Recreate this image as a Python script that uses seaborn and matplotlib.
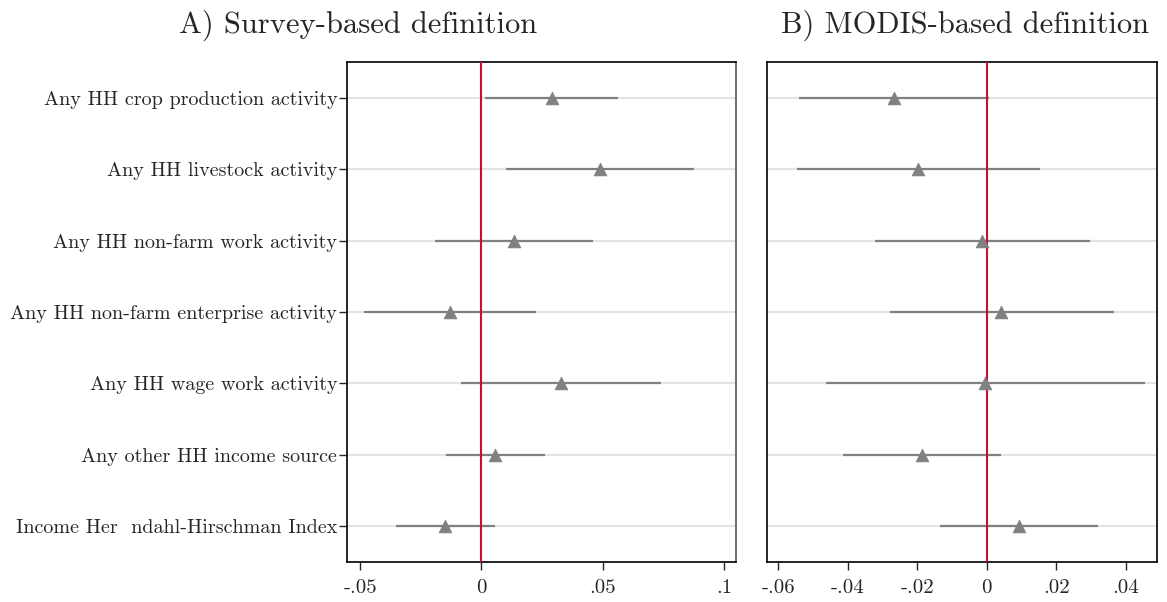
import matplotlib
matplotlib.use("Agg")
import matplotlib.pyplot as plt
import seaborn as sns
import pandas as pd
import numpy as np

# Outcomes (top to bottom)
outcomes = [
    "Any HH crop production activity",
    "Any HH livestock activity",
    "Any HH non-farm work activity",
    "Any HH non-farm enterprise activity",
    "Any HH wage work activity",
    "Any other HH income source",
    "Income Her  ndahl-Hirschman Index",
]

# Panel A: survey-based definition (coefficient and 95% CI)
survey_coef = [0.0290, 0.0489, 0.0133, -0.0128, 0.0327, 0.0058, -0.0148]
survey_lo = [0.0017, 0.0102, -0.0190, -0.0482, -0.0082, -0.0147, -0.0352]
survey_hi = [0.0565, 0.0878, 0.0459, 0.0225, 0.0739, 0.0264, 0.0055]

# Panel B: MODIS-based definition
modis_coef = [-0.0267, -0.0197, -0.0014, 0.0042, -0.0004, -0.0188, 0.0093]
modis_lo = [-0.0540, -0.0546, -0.0323, -0.0279, -0.0462, -0.0414, -0.0136]
modis_hi = [0.0007, 0.0153, 0.0296, 0.0365, 0.0455, 0.0041, 0.0320]

titles = ["A) Survey-based definition", "B) MODIS-based definition"]
survey_ticks = [-0.05, 0, 0.05, 0.1]
survey_ticklabels = ["-.05", "0", ".05", ".1"]
modis_ticks = [-0.06, -0.04, -0.02, 0, 0.02, 0.04]
modis_ticklabels = ["-.06", "-.04", "-.02", "0", ".02", ".04"]

sns.set_style("white")
plt.rcParams["font.family"] = ["cmr10", "DejaVu Serif"]
plt.rcParams["axes.unicode_minus"] = False

fig = plt.figure(figsize=(11.67, 6.02), dpi=100)
W, H = 1167, 602
axA = fig.add_axes([347 / W, 1 - 562 / H, (736 - 347) / W, (562 - 62) / H])
axB = fig.add_axes([767 / W, 1 - 562 / H, (1157 - 767) / W, (562 - 62) / H])

pos = np.arange(1, len(outcomes) + 1)
grey = "#808080"

panels = [
    (axA, survey_coef, survey_lo, survey_hi, (-0.0554, 0.105), survey_ticks, survey_ticklabels),
    (axB, modis_coef, modis_lo, modis_hi, (-0.0633, 0.049), modis_ticks, modis_ticklabels),
]

for i, (ax, coef, lo, hi, xlim, ticks, ticklabels) in enumerate(panels):
    df = pd.DataFrame({"pos": pos, "coef": coef, "lo": lo, "hi": hi})
    for y in pos:
        ax.axhline(y, color="#e3e3e3", lw=1.5, zorder=0)
    ax.hlines(df["pos"], df["lo"], df["hi"], color=grey, lw=1.6, zorder=2)
    ax.axvline(0, color="#c8102e", lw=1.5, zorder=3)
    sns.scatterplot(data=df, x="coef", y="pos", marker="^", s=85, color=grey,
                    edgecolor=grey, linewidth=0.5, ax=ax, zorder=4, legend=False)
    ax.set_xlim(*xlim)
    ax.set_ylim(7.5, 0.5)
    ax.set_xticks(ticks)
    ax.set_xticklabels(ticklabels, fontsize=15)
    ax.set_xlabel("")
    ax.set_ylabel("")
    ax.tick_params(axis="x", direction="out", length=6, width=1, bottom=True, pad=6)
    if i == 0:
        ax.set_yticks(pos)
        ax.set_yticklabels(outcomes, fontsize=14.5)
        ax.tick_params(axis="y", direction="out", length=6, width=1, left=True, pad=1)
    else:
        ax.set_yticks([])
    for side in ["left", "bottom", "top"]:
        ax.spines[side].set_color("black")
        ax.spines[side].set_linewidth(1.2)
    ax.spines["right"].set_color("#555555" if i == 0 else "black")
    ax.spines["right"].set_linewidth(1.2)

# Panel titles
fig.text(358 / W, 1 - 33 / H, titles[0], fontsize=22, ha="center", va="baseline")
fig.text(965 / W, 1 - 33 / H, titles[1], fontsize=22, ha="center", va="baseline")

fig.savefig("out.png", dpi=100)
